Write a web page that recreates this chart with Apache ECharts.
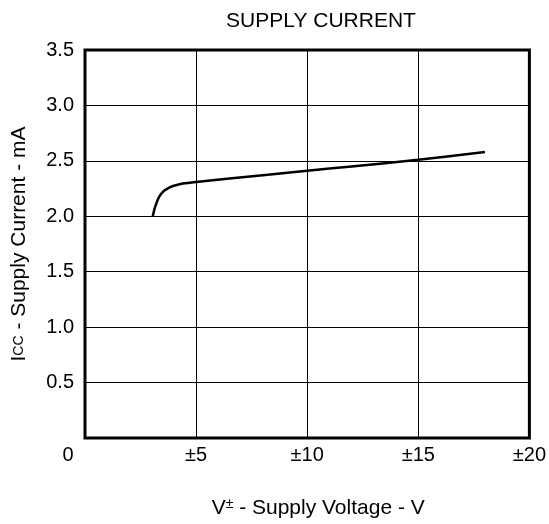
<!DOCTYPE html>
<html>
<head>
<meta charset="utf-8">
<script src="https://cdn.jsdelivr.net/npm/echarts@6/dist/echarts.min.js"></script>
<style>html,body{margin:0;padding:0;background:#fff}#c{width:549px;height:524px}</style>
</head>
<body>
<div id="c"></div>
<script>
const titleText = 'SUPPLY CURRENT';
const supplyVoltage = [3.05, 3.12, 3.2, 3.3, 3.42, 3.56, 3.75, 4.0, 4.4, 5.0, 8.0, 10.0, 12.0, 15.0, 18.0];
const supplyCurrent = [2.0, 2.06, 2.11, 2.16, 2.2, 2.23, 2.255, 2.275, 2.295, 2.31, 2.37, 2.41, 2.45, 2.51, 2.58];
const xTicks = [0, 5, 10, 15, 20];
const yTicks = [0, 0.5, 1.0, 1.5, 2.0, 2.5, 3.0, 3.5];

const font = 'Liberation Sans, Arial, Helvetica, sans-serif';
const chart = echarts.init(document.getElementById('c'));
chart.setOption({
  animation: false,
  backgroundColor: '#fff',
  title: {
    text: titleText,
    left: 316,
    textAlign: 'center',
    top: 6,
    textStyle: { fontFamily: font, fontSize: 21, fontWeight: 'normal', color: '#000' }
  },
  grid: {
    left: 85, right: 18, top: 50, bottom: 86,
    show: true, borderColor: '#000', borderWidth: 3, backgroundColor: 'transparent'
  },
  xAxis: {
    type: 'value',
    min: xTicks[0], max: xTicks[xTicks.length - 1], interval: 5,
    axisLine: { show: false },
    axisTick: { show: false },
    splitLine: { show: true, lineStyle: { color: '#000', width: 1 } },
    axisLabel: {
      margin: 7,
      fontFamily: font, fontSize: 20, color: '#000',
      formatter: v => v === 0 ? '{z|0}' : '±' + v,
      rich: { z: { fontFamily: font, fontSize: 20, color: '#000', padding: [0, 34, 0, 0] } }
    },
    name: '{a|V}{s|±}{a| - Supply Voltage - V}',
    nameLocation: 'middle',
    nameGap: 59,
    nameTextStyle: {
      padding: [0, 0, 0, 22],
      rich: {
        a: { fontFamily: font, fontSize: 21, color: '#000' },
        s: { fontFamily: font, fontSize: 14, color: '#000', verticalAlign: 'top', padding: [0, 0, 8, 0] }
      }
    }
  },
  yAxis: {
    type: 'value',
    min: yTicks[0], max: yTicks[yTicks.length - 1], interval: 0.5,
    axisLine: { show: false },
    axisTick: { show: false },
    splitLine: { show: true, lineStyle: { color: '#000', width: 1 } },
    axisLabel: {
      margin: 11,
      fontFamily: font, fontSize: 20, color: '#000',
      formatter: v => v === 0 ? '' : v.toFixed(1)
    },
    name: '{a|I}{s|CC}{a| - Supply Current - mA}',
    nameLocation: 'middle',
    nameGap: 55,
    nameRotate: 90,
    nameTextStyle: {
      rich: {
        a: { fontFamily: font, fontSize: 21, color: '#000' },
        s: { fontFamily: font, fontSize: 14, color: '#000' }
      }
    }
  },
  series: [{
    type: 'line',
    data: supplyVoltage.map((x, i) => [x, supplyCurrent[i]]),
    smooth: 0.3,
    showSymbol: false,
    lineStyle: { color: '#000', width: 2.5 }
  }]
});
</script>
</body>
</html>
